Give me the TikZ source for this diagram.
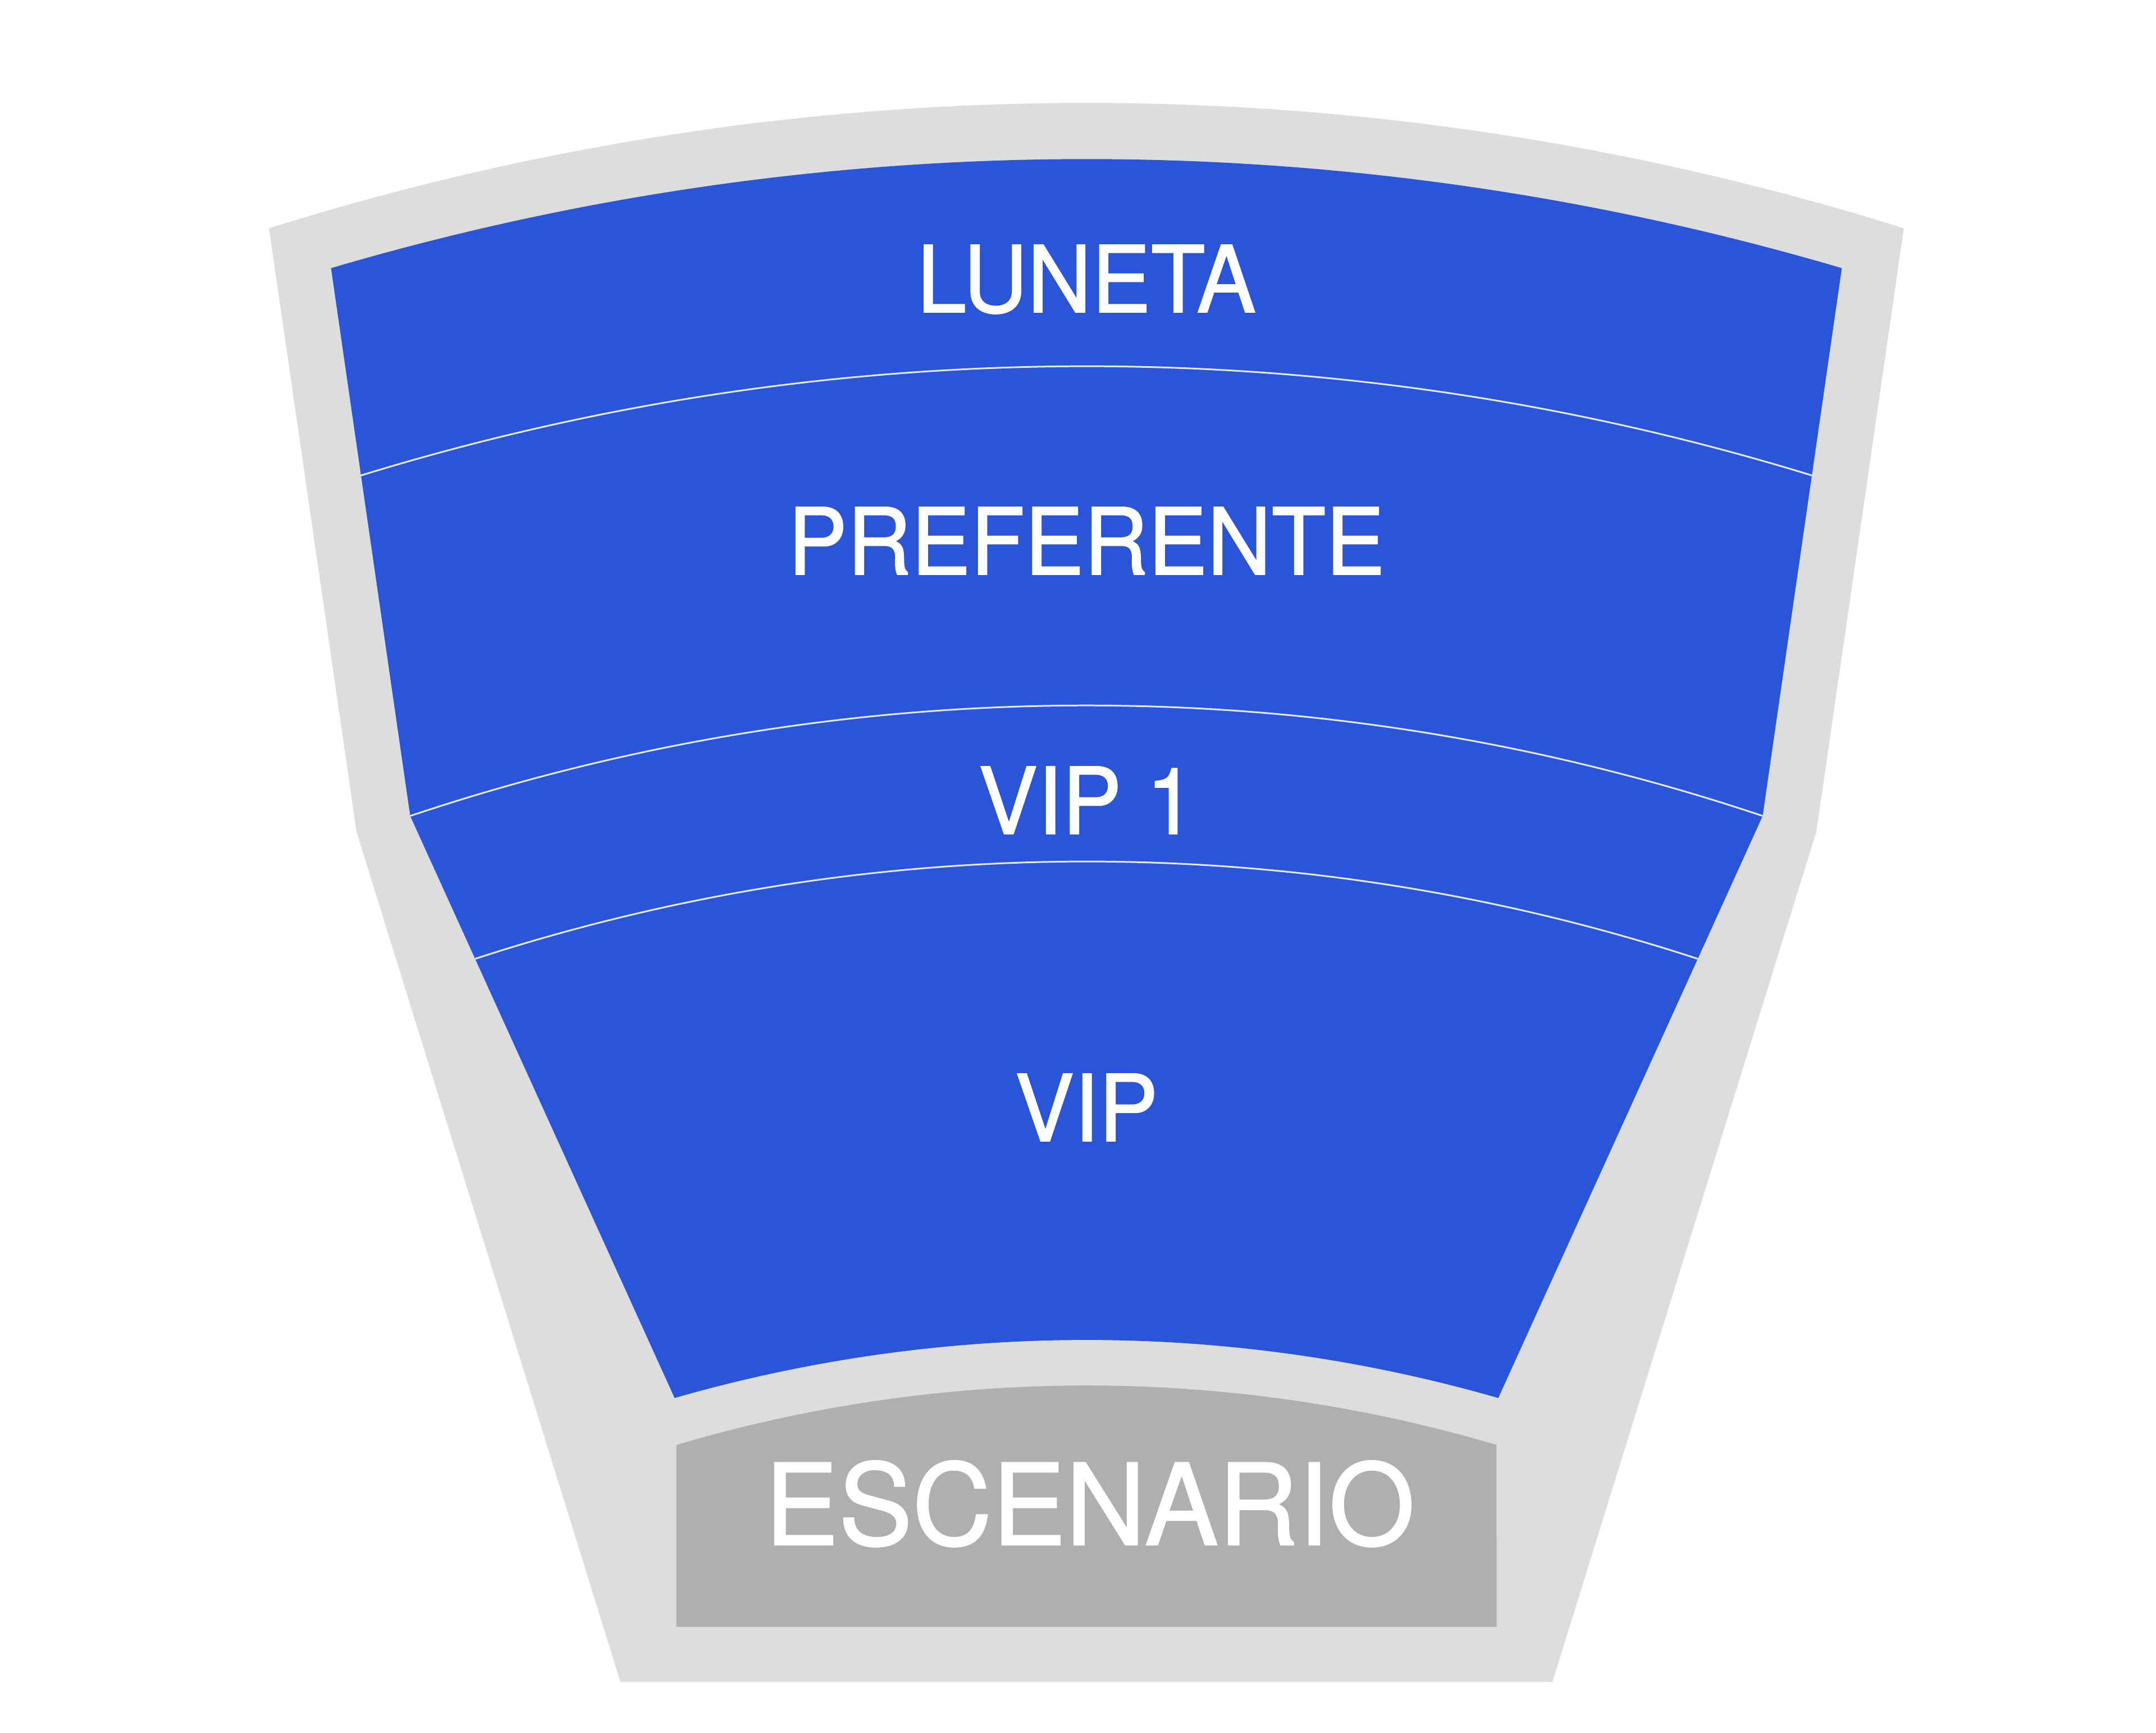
\documentclass[tikz,border=0pt]{standalone}
\usepackage{fontspec}
\newfontfamily\arialish[FakeBold=1.2]{TeX Gyre Heros}
\usetikzlibrary{calc}
\definecolor{hallgray}{HTML}{DDDDDD}
\definecolor{stagegray}{HTML}{AFAFAF}
\definecolor{seatblue}{HTML}{2B55D8}
\definecolor{divline}{HTML}{E4EAFF}
\begin{document}
\begin{tikzpicture}[
  zonelabel/.style={text=white, font=\arialish\fontsize{45}{54}\selectfont, anchor=base, inner sep=0pt, yscale=1.04},
  stagelabel/.style={text=white, font=\arialish\fontsize{56}{66}\selectfont, anchor=base, inner sep=0pt, yscale=1.02},
  divider/.style={draw=divline, line width=0.85pt},
]
\useasboundingbox (0,0) rectangle (38.4,30.85);
\fill[white] (0,0) rectangle (38.4,30.85);
\coordinate (C) at (19.35,-19.55);

% outer hall
\fill[hallgray] ($(C)+({90+asin(14.56/48.57)}:48.57)$) coordinate (OTL)
  arc[start angle={90+asin(14.56/48.57)}, end angle={90-asin(14.56/48.57)}, radius=48.57cm] coordinate (OTR)
  -- (32.35,16.04) coordinate (OKR) -- (27.65,0.90) coordinate (OBR)
  -- (11.05,0.90) coordinate (OBL) -- (6.35,16.04) coordinate (OKL) -- cycle;

% seating area
\path[save path=\bluep] ($(C)+({90+asin(13.455/47.57)}:47.57)$) coordinate (BTL)
  arc[start angle={90+asin(13.455/47.57)}, end angle={90-asin(13.455/47.57)}, radius=47.57cm] coordinate (BTR)
  -- ($(C)+({90-asin(12.045/37.84)}:37.84)$) coordinate (BKR)
  -- ($(C)+({90-asin(7.335/26.54)}:26.54)$) coordinate (BBR)
  arc[start angle={90-asin(7.335/26.54)}, end angle={90+asin(7.335/26.54)}, radius=26.54cm] coordinate (BBL)
  -- ($(C)+({90+asin(12.045/37.84)}:37.84)$) coordinate (BKL) -- cycle;
\fill[seatblue, use path=\bluep];

\begin{scope}
  \clip[use path=\bluep];
  \draw[divider] ($(C)+({90+asin(13.4/43.88)}:43.88)$)
    arc[start angle={90+asin(13.4/43.88)}, end angle={90-asin(13.4/43.88)}, radius=43.88cm];
  \draw[divider] ($(C)+({90+asin(12.5/37.84)}:37.84)$)
    arc[start angle={90+asin(12.5/37.84)}, end angle={90-asin(12.5/37.84)}, radius=37.84cm];
  \draw[divider] ($(C)+({90+asin(11.4/35.06)}:35.06)$)
    arc[start angle={90+asin(11.4/35.06)}, end angle={90-asin(11.4/35.06)}, radius=35.06cm];
\end{scope}

% stage
\fill[stagegray] (12.045,1.88) coordinate (SBL)
  -- ($(C)+({90+asin(7.305/25.73)}:25.73)$)
  arc[start angle={90+asin(7.305/25.73)}, end angle={90-asin(7.305/25.73)}, radius=25.73cm]
  -- (26.655,1.88) coordinate (SBR) -- cycle;

% labels
\node[zonelabel] (luneta) at (19.35,25.29) {LUNETA};
\node[zonelabel] (preferente) at (19.35,20.62) {PREFERENTE};
\node[zonelabel] (vipuno) at (19.36,16.00) {VIP 1};
\node[zonelabel] (vip) at (19.35,10.53) {VIP};
\node[stagelabel] (escenario) at (19.41,3.34) {ESCENARIO};
\end{tikzpicture}
\end{document}
